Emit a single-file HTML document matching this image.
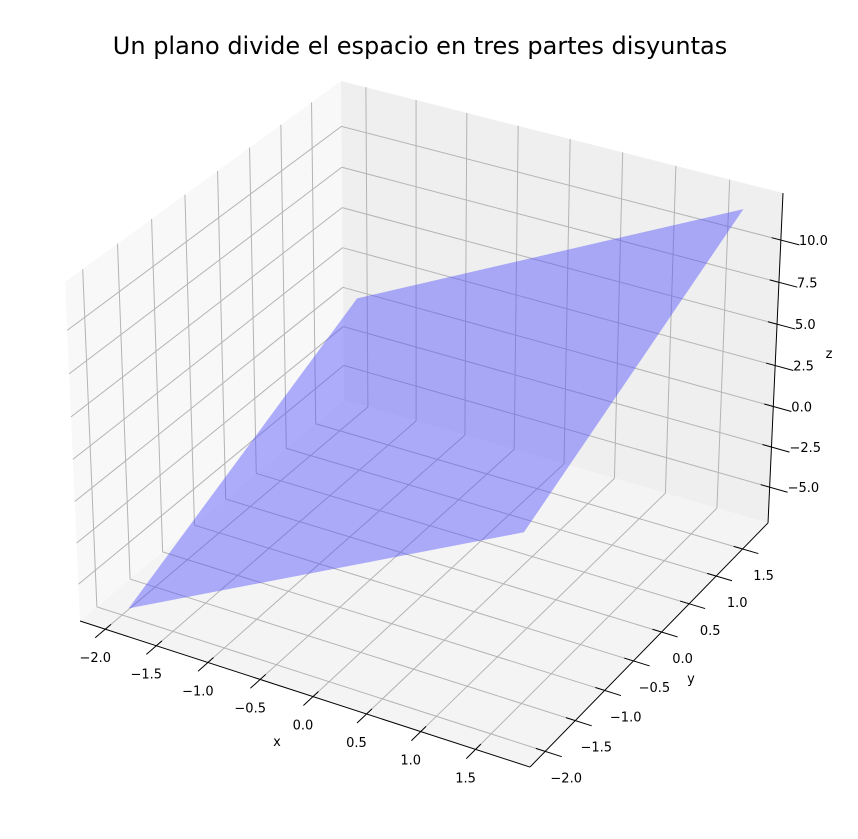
<!DOCTYPE html>
<html><head><meta charset="utf-8"><style>
html,body{margin:0;padding:0;background:#fff;}
svg{display:block;font-family:"DejaVu Sans","Liberation Sans",sans-serif;}
</style></head><body>
<svg id="chart" width="858" height="839" viewBox="0 0 858 839" xmlns="http://www.w3.org/2000/svg">
<text x="420" y="54" font-size="24" text-anchor="middle" fill="#000">Un plano divide el espacio en tres partes disyuntas</text>
<g id="panes"></g>
<g id="grid"></g>
<g id="plane"></g>
<g id="axes"></g>
</svg>
<script>
const xTicks = [-2.0, -1.5, -1.0, -0.5, 0.0, 0.5, 1.0, 1.5];
const yTicks = [-2.0, -1.5, -1.0, -0.5, 0.0, 0.5, 1.0, 1.5];
const zTicks = [-5.0, -2.5, 0.0, 2.5, 5.0, 7.5, 10.0];
const xLim = [-2.25, 1.99];
const yLim = [-2.25, 1.99];
const zLim = [-7.25, 12.75];
const cornerX = [-1.96, 1.75, 1.75, -1.96];
const cornerY = [-1.96, -1.96, 1.75, 1.75];
const cornerZ = [-6.9, 4.9, 12.1, 0.5];

const corr = [[0,0,0,80,621],[1,0,0,530,767],[1,1,0,768,523],[0,1,0,344,400],[0,1,1,341,81],[0,0,1,65,282],[1,1,1,783,193]];
function solveCam(){
  const A=[],b=[];
  corr.forEach(([u,v,w,X,Y])=>{
    A.push([u,v,w,1,0,0,0,0,-X*u,-X*v,-X*w]);b.push(X);
    A.push([0,0,0,0,u,v,w,1,-Y*u,-Y*v,-Y*w]);b.push(Y);
  });
  const n=11,M=[];
  for(let i=0;i<n;i++){M.push([]);for(let j=0;j<n;j++){let s=0;for(let k=0;k<A.length;k++)s+=A[k][i]*A[k][j];M[i].push(s);}
    let s=0;for(let k=0;k<A.length;k++)s+=A[k][i]*b[k];M[i].push(s);}
  for(let i=0;i<n;i++){let p=i;for(let r=i+1;r<n;r++)if(Math.abs(M[r][i])>Math.abs(M[p][i]))p=r;
    [M[i],M[p]]=[M[p],M[i]];
    for(let r=0;r<n;r++){if(r===i)continue;const f=M[r][i]/M[i][i];for(let c=i;c<=n;c++)M[r][c]-=f*M[i][c];}}
  return M.map((row,i)=>row[n]/row[i]);
}
const P=solveCam();
function projN(u,v,w){const d=P[8]*u+P[9]*v+P[10]*w+1;
  return [(P[0]*u+P[1]*v+P[2]*w+P[3])/d,(P[4]*u+P[5]*v+P[6]*w+P[7])/d];}
function sx(x){return (x-xLim[0])/(xLim[1]-xLim[0]);}
function sy(y){return (y-yLim[0])/(yLim[1]-yLim[0]);}
function sz(z){return (z-zLim[0])/(zLim[1]-zLim[0]);}
function proj(x,y,z){return projN(sx(x),sy(y),sz(z));}
const NS="http://www.w3.org/2000/svg";
function mk(parent,tag,attrs){const e=document.createElementNS(NS,tag);for(const k in attrs)e.setAttribute(k,attrs[k]);document.getElementById(parent).appendChild(e);return e;}
function poly(pts){return pts.map(p=>p[0].toFixed(2)+","+p[1].toFixed(2)).join(" ");}

let e;
e=mk("panes","polygon",{points:poly([projN(0,0,0),projN(0,1,0),projN(0,1,1),projN(0,0,1)]),fill:"#f8f8f8"});


e=mk("panes","polygon",{points:poly([projN(0,1,0),projN(1,1,0),projN(1,1,1),projN(0,1,1)]),fill:"#efefef"});


e=mk("panes","polygon",{points:poly([projN(0,0,0),projN(1,0,0),projN(1,1,0),projN(0,1,0)]),fill:"#f4f4f4"});



function line(g,a,b,st,w){return mk(g,"line",{x1:a[0].toFixed(2),y1:a[1].toFixed(2),x2:b[0].toFixed(2),y2:b[1].toFixed(2),stroke:st,"stroke-width":w});}
const gc="#b4b4b4";
xTicks.forEach(x=>{
  e=line("grid",proj(x,yLim[0],zLim[0]),proj(x,yLim[1],zLim[0]),gc,1);
  
  
  e=line("grid",proj(x,yLim[1],zLim[0]),proj(x,yLim[1],zLim[1]),gc,1);
  
  
});
yTicks.forEach(y=>{
  e=line("grid",proj(xLim[0],y,zLim[0]),proj(xLim[1],y,zLim[0]),gc,1);
  
  
  e=line("grid",proj(xLim[0],y,zLim[0]),proj(xLim[0],y,zLim[1]),gc,1);
  
  
});
zTicks.forEach(z=>{
  e=line("grid",proj(xLim[0],yLim[0],z),proj(xLim[0],yLim[1],z),gc,1);
  
  
  e=line("grid",proj(xLim[0],yLim[1],z),proj(xLim[1],yLim[1],z),gc,1);
  
  
});

e=mk("plane","polygon",{points:poly(cornerX.map((x,i)=>proj(x,cornerY[i],cornerZ[i]))),fill:"rgb(80,80,255)","fill-opacity":"0.45"});



e=line("axes",projN(0,0,0),projN(1,0,0),"#000",1);


e=line("axes",projN(1,0,0),projN(1,1,0),"#000",1);


e=line("axes",projN(1,1,0),projN(1,1,1),"#000",1);



function txt(x,y,s,anchor){const t=mk("axes","text",{x:x.toFixed(1),y:y.toFixed(1),"font-size":"13","text-anchor":anchor,fill:"#000"});t.textContent=s;return t;}
function fmt(v){return v.toFixed(1).replace("-","\u2212");}
xTicks.forEach(x=>{
  const a=projN(sx(x),0.02,0),b=projN(sx(x),-0.035,0);
  e=line("axes",a,b,"#000",1);
  
  
  const p=projN(sx(x),0,0);
  e=txt(p[0]-10,p[1]+33,fmt(x),"middle");
  
  
});
yTicks.forEach(y=>{
  const a=projN(0.98,sy(y),0),b=projN(1.035,sy(y),0);
  e=line("axes",a,b,"#000",1);
  
  
  const p=projN(1,sy(y),0);
  e=txt(p[0]+21,p[1]+31,fmt(y),"middle");
  
  
});
zTicks.forEach(z=>{
  const a=projN(0.98,1,sz(z)),b=projN(1.04,1,sz(z));
  e=line("axes",a,b,"#000",1);
  
  
  const p=projN(1,1,sz(z));
  e=txt(p[0]+18,p[1]+5,fmt(z),"start");
  
  
});
e=txt(277,746,"x","middle");


e=txt(691,683,"y","middle");


e=txt(829,358,"z","middle");


</script>
</body></html>
